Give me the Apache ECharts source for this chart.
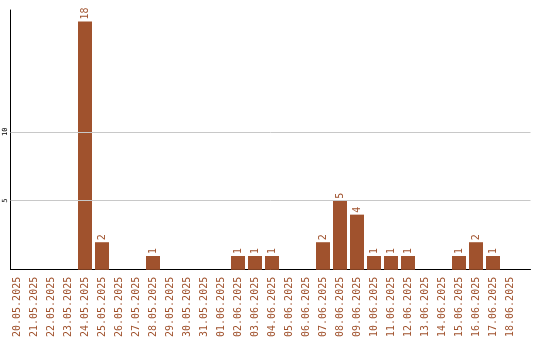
<!DOCTYPE html>
<html><head><meta charset="utf-8">
<script src="https://cdn.jsdelivr.net/npm/echarts@6/dist/echarts.min.js"></script>
<style>html,body{margin:0;padding:0;background:#fff}#c{width:540px;height:340px}</style>
</head><body><div id="c"></div>
<script>
const categories = ['20.05.2025','21.05.2025','22.05.2025','23.05.2025','24.05.2025','25.05.2025','26.05.2025','27.05.2025','28.05.2025','29.05.2025','30.05.2025','31.05.2025','01.06.2025','02.06.2025','03.06.2025','04.06.2025','05.06.2025','06.06.2025','07.06.2025','08.06.2025','09.06.2025','10.06.2025','11.06.2025','12.06.2025','13.06.2025','14.06.2025','15.06.2025','16.06.2025','17.06.2025','18.06.2025'];
const values = [0,0,0,0,18,2,0,0,1,0,0,0,0,1,1,1,0,0,2,5,4,1,1,1,0,0,1,2,1,0];
const yTicks = [5,10];
const yMax = 18.84;
const brown = '#a0522d';
const mono = 'DejaVu Sans Mono';
const chart = echarts.init(document.getElementById('c'), null, {renderer:'canvas'});
chart.setOption({
  animation:false,
  grid:[
    {left:8.5, width:510, top:10, bottom:70, containLabel:false},
    {left:10.5, right:9.5, top:10, bottom:70.5, containLabel:false}
  ],
  xAxis:[
    {gridIndex:0, type:'category', data:categories, axisLine:{show:false}, axisTick:{show:false},
     axisLabel:{rotate:90, interval:0, margin:7, color:brown, fontFamily:mono, fontSize:10}},
    {gridIndex:1, type:'value', min:0, max:1, axisLine:{show:true, onZero:false, lineStyle:{color:'#000', width:1}}, axisTick:{show:false}, axisLabel:{show:false}, splitLine:{show:false}}
  ],
  yAxis:[
    {gridIndex:0, type:'value', min:0, max:yMax, show:false},
    {gridIndex:1, type:'value', min:0, max:yMax, axisLine:{show:true, lineStyle:{color:'#000', width:1}}, axisTick:{show:false},
     splitLine:{show:false},
     axisLabel:{customValues:yTicks, rotate:90, margin:2, color:'#000', fontFamily:mono, fontSize:7}}
  ],
  series:[
    {type:'line', xAxisIndex:1, yAxisIndex:1, data:[], silent:true,
     markLine:{silent:true, symbol:'none', label:{show:false}, lineStyle:{color:'#c8c8c8', type:'solid', width:1},
       data:yTicks.map(v=>({yAxis:v}))}},
    {type:'bar', xAxisIndex:0, yAxisIndex:0, data:values, barWidth:14, itemStyle:{color:brown},
     label:{show:true, position:'top', rotate:90, align:'left', verticalAlign:'middle', distance:2, color:brown, fontFamily:mono, fontSize:10,
       formatter:p=>p.value?String(p.value):''}}
  ]
});
</script></body></html>
